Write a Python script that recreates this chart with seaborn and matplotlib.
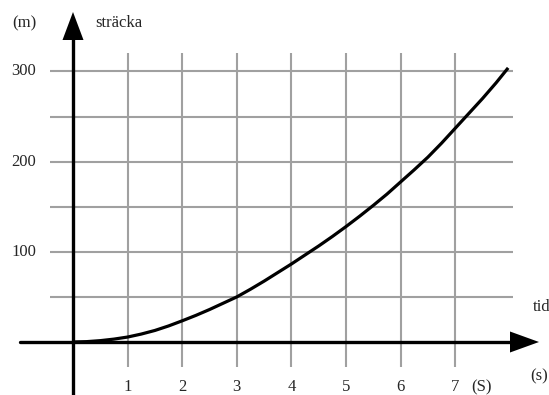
import numpy as np
import matplotlib.pyplot as plt
import seaborn as sns
import pandas as pd

# values (time in s, distance in m)
tid = [0, 0.25, 0.5, 0.75, 1, 1.25, 1.5, 1.75, 2, 2.25, 2.5, 2.75, 3, 3.25, 3.5, 3.75,
       4, 4.25, 4.5, 4.75, 5, 5.25, 5.5, 5.75, 6, 6.25, 6.5, 6.75, 7, 7.25, 7.5, 7.75, 7.97]
stracka = [0, 0.4, 1.5, 3.2, 5.5, 8.8, 12.8, 17.8, 23.5, 29.5, 36, 43, 50, 58.5, 67.5, 77,
           86.5, 96.5, 106.5, 117, 128, 139.5, 151.5, 164, 177.5, 191, 205, 220.5, 237,
           253.5, 270, 287.5, 304]
x_ticks = [1, 2, 3, 4, 5, 6, 7]
y_ticks = [100, 200, 300]
grid_y = [50, 100, 150, 200, 250, 300]

df = pd.DataFrame({'tid': tid, 'stracka': stracka})

sns.set_style('white')
plt.rcParams['font.family'] = ['Liberation Serif', 'DejaVu Serif']

fig = plt.figure(figsize=(5.49, 3.95), dpi=100)
ax = fig.add_axes([0, 0, 1, 1])

# scale: 54.6 px per second, 0.9017 px per metre, origin at pixel (73, 342)
px_x, px_y = 54.6, 0.9017
ax.set_xlim(-73 / px_x, (549 - 73) / px_x)
ax.set_ylim(-(395 - 342) / px_y, 342 / px_y)
ax.axis('off')

grid_col = '#a0a0a0'
ax.hlines(grid_y, (50 - 73) / px_x, (513 - 73) / px_x, color=grid_col, lw=1.5, zorder=1)
ax.vlines(x_ticks, -(367 - 342) / px_y, (342 - 53) / px_y, color=grid_col, lw=1.5, zorder=1)

# axes with arrow heads
ax.plot([0, 0], [-60, (342 - 38) / px_y], color='black', lw=2.4, zorder=3)
ax.plot([(20 - 73) / px_x, (512 - 73) / px_x], [0, 0], color='black', lw=2.4, zorder=3)
hw = 10.5
ax.fill([0, -hw / px_x, hw / px_x], [(342 - 12) / px_y, (342 - 40) / px_y, (342 - 40) / px_y],
        color='black', zorder=4, lw=0)
ax.fill([(539 - 73) / px_x, (510 - 73) / px_x, (510 - 73) / px_x], [0, hw / px_y, -hw / px_y],
        color='black', zorder=4, lw=0)

sns.lineplot(data=df, x='tid', y='stracka', ax=ax, color='black', lw=2.3,
             sort=False, estimator=None, zorder=5,
             solid_joinstyle='round', solid_capstyle='butt')

fs = 12
for t in x_ticks:
    ax.text(t, -(387 - 342) / px_y, str(t), ha='center', va='center', fontsize=fs)
for v in y_ticks:
    ax.text((36 - 73) / px_x, v, str(v), ha='right', va='center', fontsize=fs)

ax.text((471 - 73) / px_x, -(387 - 342) / px_y, '(S)', ha='left', va='center', fontsize=fs)
ax.text((548 - 73) / px_x, -(376 - 342) / px_y, '(s)', ha='right', va='center', fontsize=fs)
ax.text((533 - 73) / px_x, -(307 - 342) / px_y, 'tid', ha='left', va='center', fontsize=fs)
ax.text((24 - 73) / px_x, (342 - 23) / px_y, '(m)', ha='center', va='center', fontsize=fs)
ax.text((95 - 73) / px_x, (342 - 23) / px_y, 'sträcka', ha='left', va='center', fontsize=fs)

fig.savefig('out.png', dpi=100)
